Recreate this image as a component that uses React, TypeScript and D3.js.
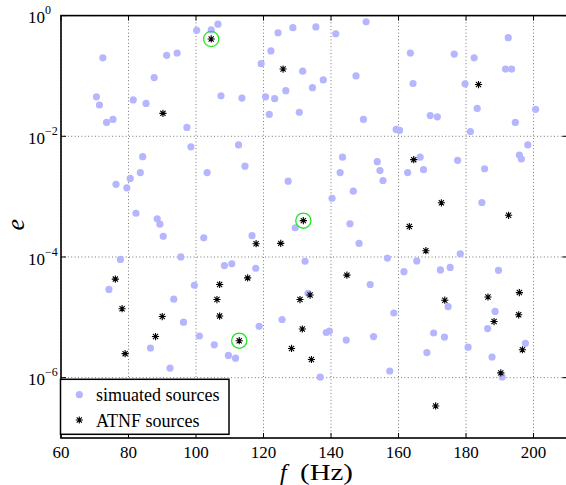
import React from "react";
import * as d3 from "d3";

// [f (Hz), e]
const simulatedSources: [number, number][] = [
  [72.4, 2.0e-1], [70.5, 4.5e-2], [71.4, 3.3e-2], [73.5, 1.7e-2], [75.4, 1.9e-2],
  [81.4, 4.0e-2], [85.2, 3.5e-2], [87.6, 9.4e-2], [91.3, 2.2e-1], [94.4, 2.4e-1],
  [100.2, 5.7e-1], [97.3, 1.4e-2], [98.5, 6.7e-3], [84.2, 4.6e-3], [106.5, 7.2e-1],
  [104.5, 5.8e-1], [124.3, 5.2e-1], [128.7, 6.3e-1], [135.5, 6.5e-1], [141.4, 5.0e-1],
  [150.4, 7.9e-1], [122.2, 2.6e-1], [119.3, 1.6e-1], [131.6, 1.2e-1], [137.7, 8.6e-2],
  [134.5, 6.4e-2], [126.6, 5.7e-2], [147.4, 1.0e-1], [107.4, 4.7e-2], [113.6, 4.3e-2],
  [120.6, 4.5e-2], [123.3, 4.2e-2], [121.7, 2.3e-2], [130.6, 2.5e-2], [149.6, 1.9e-2],
  [112.6, 7.2e-3], [143.4, 4.5e-3], [153.7, 3.8e-3], [192.5, 4.3e-1], [163.5, 2.4e-1],
  [176.5, 2.3e-1], [182.4, 2.0e-1], [191.7, 1.3e-1], [193.5, 1.3e-1], [164.3, 7.5e-2],
  [179.7, 7.4e-2], [183.3, 2.9e-2], [200.6, 2.8e-2], [169.4, 2.2e-2], [171.5, 2.1e-2],
  [194.6, 1.7e-2], [159.3, 1.3e-2], [160.3, 1.25e-2], [181.3, 1.2e-2], [198.3, 7.2e-3],
  [195.8, 4.9e-3], [196.4, 4.2e-3], [166.4, 4.5e-3], [177.5, 4.0e-3], [83.5, 2.5e-3],
  [80.5, 2.0e-3], [76.3, 1.6e-3], [79.5, 1.4e-3], [82.2, 5.3e-4], [88.5, 4.3e-4],
  [89.3, 3.5e-4], [90.3, 2.2e-4], [77.6, 9.1e-5], [95.5, 1.0e-4], [74.2, 2.9e-5],
  [99.5, 3.4e-5], [93.4, 2.0e-5], [114.5, 3.2e-3], [103.3, 2.5e-3], [127.3, 1.8e-3],
  [154.5, 2.7e-3], [155.4, 1.85e-3], [142.7, 2.5e-3], [146.6, 1.23e-3], [140.3, 9.4e-4],
  [129.4, 3.05e-4], [145.6, 3.55e-4], [148.3, 1.68e-4], [102.3, 2.08e-4], [116.6, 2.25e-4],
  [156.7, 9.6e-5], [132.3, 8.5e-5], [108.4, 7.2e-5], [110.6, 7.7e-5], [117.7, 6.5e-5],
  [151.6, 3.5e-5], [133.2, 2.5e-5], [162.7, 2.5e-3], [167.4, 2.8e-3], [185.5, 2.9e-3],
  [184.7, 8.0e-4], [178.3, 1.13e-4], [165.4, 8.6e-5], [161.6, 5.7e-5], [172.4, 6.1e-5],
  [175.3, 6.7e-5], [189.6, 6.0e-5], [174.7, 1.5e-5], [188.6, 1.25e-5], [96.3, 8.3e-6],
  [101.0, 4.9e-6], [86.5, 3.1e-6], [92.3, 1.44e-6], [105.4, 3.5e-6], [109.6, 2.34e-6],
  [111.7, 2.1e-6], [118.7, 7.1e-6], [125.5, 9.2e-6], [138.6, 5.6e-6], [139.5, 5.9e-6],
  [144.5, 4.2e-6], [152.6, 4.8e-6], [136.8, 1.02e-6], [157.4, 1.29e-6], [158.6, 1.18e-5],
  [170.4, 5.5e-6], [173.6, 4.7e-6], [168.4, 2.6e-6], [180.6, 3.2e-6], [186.4, 6.5e-6],
  [197.6, 3.7e-6], [187.7, 2.2e-6], [190.7, 1.03e-6],
];

const atnfSources: [number, number][] = [
  [90.2, 2.4e-2], [104.5, 4.1e-1], [125.8, 1.3e-1], [183.7, 7.2e-2], [164.5, 4.1e-3],
  [76.1, 4.3e-5], [78.1, 1.39e-5], [131.8, 4.0e-4], [117.8, 1.66e-4], [125.1, 1.68e-4],
  [115.3, 4.5e-5], [107.0, 3.5e-5], [106.2, 1.97e-5], [144.7, 5.0e-5], [133.8, 2.34e-5],
  [130.8, 1.97e-5], [172.7, 7.9e-4], [192.6, 4.9e-4], [163.2, 3.2e-4], [168.1, 1.27e-4],
  [173.7, 1.92e-5], [186.5, 2.17e-5], [195.8, 2.57e-5], [90.0, 1.03e-5], [88.0, 4.8e-6],
  [79.0, 2.5e-6], [107.0, 1.05e-5], [112.8, 4.1e-6], [131.5, 6.4e-6], [128.3, 3.05e-6],
  [134.2, 2.0e-6], [171.0, 3.4e-7], [188.3, 8.5e-6], [195.6, 1.1e-5], [196.7, 2.9e-6],
  [190.3, 1.2e-6],
];

// ATNF sources marked with a green ring
const highlighted = [1, 7, 27];

const xTicks = [60, 80, 100, 120, 140, 160, 180, 200];
const yTicks = [1, 1e-2, 1e-4, 1e-6];
const yTickExp = ["0", "\u22122", "\u22124", "\u22126"];
const legendLabels = ["simuated sources", "ATNF sources"];

const W = 566;
const H = 485;
const serif = "'Liberation Serif', 'Times New Roman', serif";
const simColor = "#b6b6ff";

const Star = ({ x, y, r = 3.6 }: { x: number; y: number; r?: number }) => {
  const d = r * 0.72;
  return (
    <path
      d={`M${x - r},${y}H${x + r}M${x},${y - r}V${y + r}M${x - d},${y - d}L${x + d},${y + d}M${x - d},${y + d}L${x + d},${y - d}`}
      stroke="#000"
      strokeWidth={1.1}
      fill="none"
    />
  );
};

export default function App() {
  const x = d3.scaleLinear().domain([60, 210]).range([61, 567.3]);
  const y = d3.scaleLog().domain([1e-7, 1]).range([438, 15.6]);
  const [x0, x1] = x.range();
  const [y0, y1] = y.range();
  const tick = 5;

  return (
    <svg
      width={W}
      height={H}
      style={{ position: "absolute", left: 0, top: 0, background: "#fff" }}
      fontFamily={serif}
    >
      <rect width={W} height={H} fill="#fff" />
      {/* grid */}
      <g stroke="#777" strokeWidth={1} strokeDasharray="1 2.4">
        {xTicks.map((t) => (
          <line key={`gx${t}`} x1={x(t)} x2={x(t)} y1={y1} y2={y0} />
        ))}
        {yTicks.map((t) => (
          <line key={`gy${t}`} x1={x0} x2={x1} y1={y(t)} y2={y(t)} />
        ))}
      </g>

      {/* data */}
      <g fill={simColor}>
        {simulatedSources.map(([f, e], i) => (
          <circle key={i} cx={x(f)} cy={y(e)} r={3.6} />
        ))}
      </g>
      <g>
        {atnfSources.map(([f, e], i) => (
          <Star key={i} x={x(f)} y={y(e)} />
        ))}
      </g>
      <g fill="none" stroke="#22e622" strokeWidth={1.3}>
        {highlighted.map((i) => (
          <circle key={i} cx={x(atnfSources[i][0])} cy={y(atnfSources[i][1])} r={7.6} />
        ))}
      </g>

      {/* ticks */}
      <g stroke="#000" strokeWidth={1}>
        {xTicks.map((t) => (
          <g key={`tx${t}`}>
            <line x1={x(t)} x2={x(t)} y1={y0} y2={y0 - tick} />
            <line x1={x(t)} x2={x(t)} y1={y1} y2={y1 + tick} />
          </g>
        ))}
        {yTicks.map((t) => (
          <g key={`ty${t}`}>
            <line x1={x0} x2={x0 + tick} y1={y(t)} y2={y(t)} />
            <line x1={x1} x2={x1 - tick} y1={y(t)} y2={y(t)} />
          </g>
        ))}
      </g>

      {/* frame */}
      <rect x={x0} y={y1} width={x1 - x0} height={y0 - y1} fill="none" stroke="#000" strokeWidth={1.6} />

      {/* tick labels */}
      <g fontSize={17} fill="#000">
        {xTicks.map((t) => (
          <text key={`lx${t}`} x={x(t)} y={458} textAnchor="middle">
            {t}
          </text>
        ))}
        {yTicks.map((t, i) => (
          <text key={`ly${t}`} x={28} y={y(t) + 7.8}>
            10
            <tspan fontSize={12} dy={-9}>
              {yTickExp[i]}
            </tspan>
          </text>
        ))}
      </g>

      {/* axis titles */}
      <text x={280} y={480} fontSize={24} fontStyle="italic">
        f
      </text>
      <text x={300} y={480} fontSize={23} textLength={53} lengthAdjust="spacingAndGlyphs">
        (Hz)
      </text>
      <text
        transform={`translate(24,${(y0 + y1) / 2 - 2}) rotate(-90)`}
        textAnchor="middle"
        fontSize={26}
        fontStyle="italic"
      >
        e
      </text>

      {/* legend */}
      <g>
        <rect x={60.5} y={379.3} width={168.5} height={55} fill="#fff" stroke="#000" strokeWidth={1.5} />
        <circle cx={79.3} cy={394.7} r={3.6} fill={simColor} />
        <Star x={79.3} y={420} />
        <text x={96} y={401} fontSize={18}>
          {legendLabels[0]}
        </text>
        <text x={96} y={426.5} fontSize={18}>
          {legendLabels[1]}
        </text>
      </g>
    </svg>
  );
}
